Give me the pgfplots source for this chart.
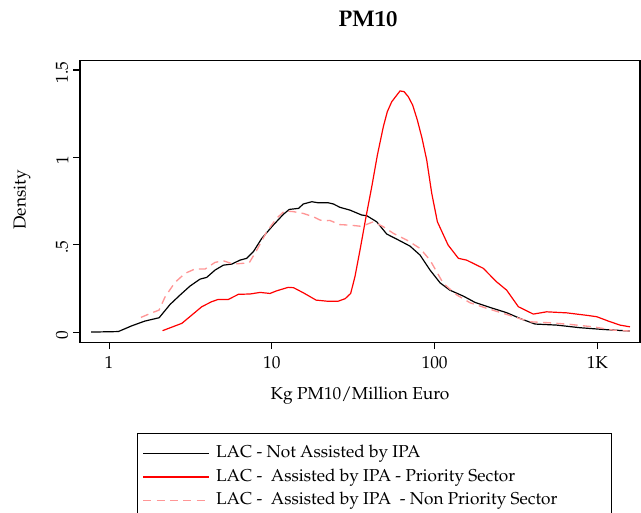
\documentclass[border=0pt]{standalone}
\usepackage[T1]{fontenc}
\usepackage{mathpazo}
\usepackage{pgfplots}
\pgfplotsset{compat=1.18}
\definecolor{sred}{RGB}{255,0,0}
\definecolor{spink}{RGB}{255,150,150}
\begin{document}
\begin{tikzpicture}
\begin{axis}[
 name=ax,
 scale only axis, width=420pt, height=211pt,
 xmode=log, xmin=0.663, xmax=1827, ymin=-0.057, ymax=1.553,
 xtick={1,10,100,1000}, xticklabels={\mbox{1},\mbox{10},\mbox{100},\mbox{1K}},
 ytick={0,0.5,1,1.5}, yticklabels={\mbox{0},\mbox{.5},\mbox{1},\mbox{1.5}},
 xminorticks=false, yminorticks=false,
 tick align=outside, tick pos=left,
 major tick length=5.25pt,
 every tick/.style={black, line width=0.8pt},
 axis line style={line width=0.8pt},
 tick label style={font=\fontsize{13}{15}\selectfont},
 xticklabel style={yshift=-2pt},
 yticklabel style={rotate=90, anchor=south, xshift=-2pt},
 clip mode=individual,
 legend style={
   at={(axis description cs:0.1018,-0.3235)}, anchor=north west,
   draw=black, line width=0.8pt,
   inner xsep=3.75pt, inner ysep=6.2pt,
   column sep=3.75pt, row sep=0pt,
   font=\fontsize{12.9}{14}\selectfont,
   cells={anchor=west},
   nodes={inner xsep=1.5pt, inner ysep=2.8pt, text height=9pt, text depth=3pt},
 },
 legend image code/.code={\draw[#1] (0pt,0pt) -- (49pt,0pt);},
]
\addplot[black, line width=0.9pt] coordinates {
(0.775,0)(1.14,0.003)(1.38,0.036)(1.66,0.063)(2.03,0.082)(2.37,0.158)(2.73,0.212)(3.14,0.263)(3.62,0.303)(3.98,0.313)(4.48,0.355)(5.04,0.383)(5.67,0.389)(6.38,0.412)(7.01,0.422)(7.70,0.46)(8.67,0.536)(10.2,0.612)(11.8,0.675)(12.8,0.702)(14.6,0.708)(15.6,0.733)(17.6,0.746)(19.3,0.740)(22.2,0.740)(23.9,0.733)(26.2,0.714)(30.2,0.698)(35.6,0.670)(38.3,0.666)(44.1,0.631)(50.8,0.561)(58.5,0.532)(70.6,0.492)(81.3,0.441)(93.7,0.355)(108,0.282)(124,0.240)(150,0.206)(177,0.170)(219,0.141)(277,0.111)(343,0.074)(414,0.046)(562,0.040)(782,0.025)(1087,0.015)(1585,0.006)
};
\addlegendentry{LAC - Not Assisted by IPA}
\addplot[sred, line width=0.9pt] coordinates {
(2.13,0.008)(2.80,0.050)(3.22,0.097)(3.71,0.145)(4.27,0.174)(4.69,0.187)(5.41,0.187)(6.23,0.216)(7.35,0.218)(8.47,0.227)(9.75,0.221)(10.7,0.236)(12.6,0.256)(13.6,0.254)(15.6,0.225)(18.7,0.183)(21.7,0.177)(25.6,0.177)(28.2,0.191)(30.5,0.221)(32.4,0.317)(34.8,0.469)(37.9,0.660)(41.1,0.832)(44.5,1.013)(48.4,1.175)(51.2,1.261)(54.5,1.318)(61.3,1.380)(64.9,1.376)(68.9,1.347)(73.3,1.299)(78.3,1.214)(83.7,1.109)(89.4,0.985)(96,0.794)(104,0.631)(121,0.498)(140,0.422)(157,0.412)(199,0.365)(240,0.288)(277,0.240)(327,0.145)(404,0.103)(488,0.116)(648,0.110)(859,0.096)(990,0.088)(1167,0.063)(1376,0.040)(1585,0.030)
};
\addlegendentry{LAC - \ Assisted by IPA - Priority Sector}
\addplot[spink, line width=1pt, dash pattern=on 6pt off 4pt] coordinates {
(1.57,0.084)(1.83,0.110)(2.03,0.126)(2.21,0.202)(2.54,0.284)(2.93,0.336)(3.37,0.361)(3.89,0.361)(4.48,0.399)(5.04,0.408)(5.80,0.389)(6.53,0.393)(7.27,0.397)(8.08,0.469)(9.30,0.574)(10.7,0.651)(12.0,0.694)(13.6,0.689)(15.6,0.679)(18.0,0.660)(19.8,0.641)(21.2,0.637)(22.7,0.639)(26.2,0.615)(30.2,0.612)(35.6,0.605)(42.0,0.631)(48.4,0.603)(55.8,0.565)(67.4,0.527)(81.3,0.479)(93.7,0.412)(113,0.279)(137,0.212)(165,0.168)(209,0.136)(277,0.101)(385,0.059)(512,0.053)(679,0.044)(944,0.030)(1253,0.011)(1585,0.006)
};
\addlegendentry{LAC - \ Assisted by IPA \ - Non Priority Sector\hspace*{35.5pt}}
\node[font=\fontsize{17}{20}\selectfont\bfseries] at (axis description cs:0.514,1.148) {PM10};
\node[font=\fontsize{13}{15}\selectfont, rotate=90] at (axis description cs:-0.1036,0.505) {Density};
\node[font=\fontsize{13}{15}\selectfont] at (axis description cs:0.5,-0.192) {Kg PM10/Million Euro};
\coordinate (BL) at (axis description cs:-0.142857,-0.6043);
\coordinate (TR) at (axis description cs:1.001786,1.21578);
\end{axis}
\pgfresetboundingbox
\path[use as bounding box] (BL) rectangle (TR);
\end{tikzpicture}
\end{document}
